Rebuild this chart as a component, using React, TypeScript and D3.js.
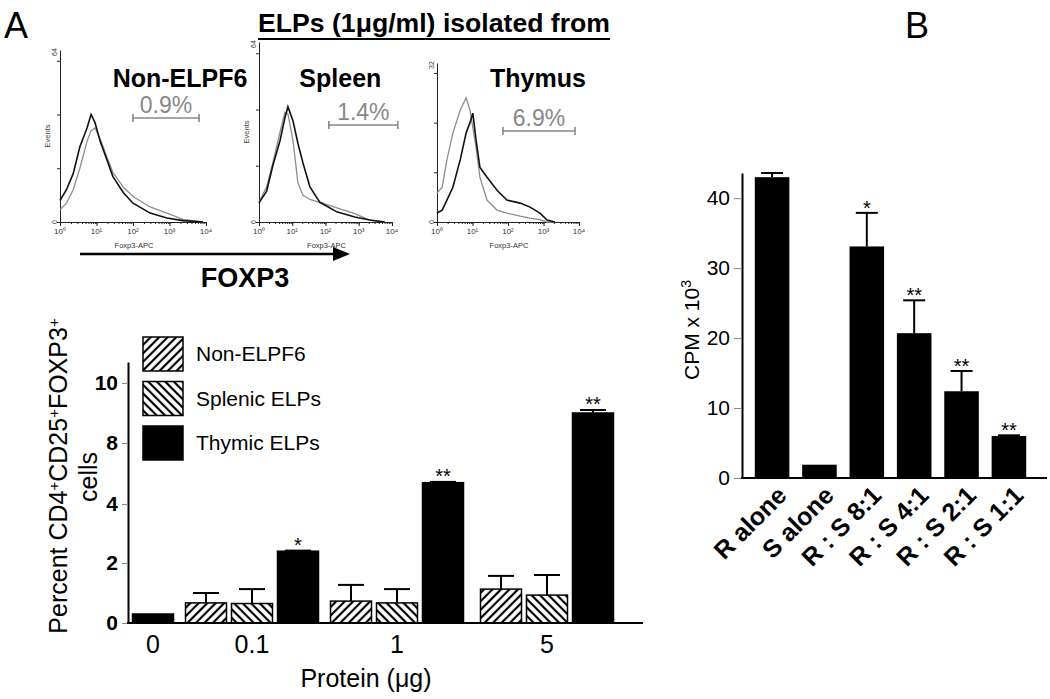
import React, { useEffect, useRef } from 'react'
import * as d3 from 'd3'

// ---- Panel A, top: FOXP3 flow histograms (black / gray overlays) ----
const nonElpIntensity = [1, 1.5, 2.3, 3.5, 5.5, 7.1, 9.1, 12.6, 19.5, 28, 54, 100, 295, 850, 2340, 8300]
const nonElpBlack = [8, 12, 18, 28, 35, 40, 37, 30, 23, 17, 11, 7, 3.3, 1.5, 0.5, 0]
const nonElpGray = [4.5, 7, 12, 20, 30, 34, 35, 31, 24, 18.5, 13, 9.5, 5.6, 3.3, 1, 0]

const spleenIntensity = [1, 1.7, 2.6, 4.3, 6.0, 7.4, 10.5, 14.8, 21, 34, 68, 219, 759, 2140, 6030]
const spleenBlack = [6.8, 11, 20, 29, 37, 41, 36, 28, 21, 12.5, 7, 3.6, 1.8, 0.7, 0]
const spleenGray = [7, 12.5, 21, 32, 39, 38.5, 29, 14, 9.5, 8, 7, 5, 3, 0.7, 0]

const thymusIntensity = [1, 1.4, 1.9, 2.8, 4.5, 6.6, 8.5, 10.2, 12.6, 16.2, 25.7, 49, 93, 219, 417, 794, 1260, 2090]
const thymusBlack = [1.8, 2.4, 4.4, 7, 12.5, 17.9, 20, 21.9, 16.5, 11, 9, 6.4, 4.4, 3.8, 3, 1.8, 0.4, 0]
const thymusGray = [5.8, 7, 12.5, 17.9, 22.5, 25, 22.5, 19, 15, 9, 4.4, 2.4, 1.8, 1.2, 0.8, 0.5, 0, 0]

const histTitles = ['Non-ELPF6', 'Spleen', 'Thymus']
const histYMax = [64, 64, 32]
const gatePct = ['0.9%', '1.4%', '6.9%']
const gateLow = [100, 126, 72]
const gateHigh = [6450, 15000, 7700]
const gateLevel = [38.7, 34.5, 18.3]
const decades = [1, 10, 100, 1000, 10000]
const decadeLabels = ['10⁰', '10¹', '10²', '10³', '10⁴']

// ---- Panel A, bottom: % CD4+CD25+FOXP3+ cells ----
const doses = ['0', '0.1', '1', '5']
const nonElpMean = [null, 0.67, 0.73, 1.13]
const nonElpSem = [null, 0.33, 0.54, 0.44]
const splenicMean = [null, 0.65, 0.67, 0.93]
const splenicSem = [null, 0.48, 0.46, 0.67]
const thymicMean = [0.3, 2.4, 5.4, 9.0]
const thymicSem = [0, 0.02, 0.05, 0.1]
const thymicStars = ['', '*', '**', '**']
const pctTicks = [0, 2, 4, 8, 10]

// ---- Panel B: proliferation ----
const cpmGroups = ['R alone', 'S alone', 'R : S 8:1', 'R : S 4:1', 'R : S 2:1', 'R : S 1:1']
const cpmMean = [43, 1.9, 33.1, 20.7, 12.4, 6.0]
const cpmSem = [0.6, 0, 4.8, 4.7, 2.9, 0.1]
const cpmStars = ['', '', '*', '**', '**', '**']
const cpmTicks = [0, 10, 20, 30, 40]

const W = 1050
const H = 699
const FONT = "'Liberation Sans', Arial, Helvetica, sans-serif"

// plot boxes of the three histograms
const histLayout = [
  { left: 60, right: 206, top: 50, bottom: 222, events: true },
  { left: 259, right: 392, top: 42, bottom: 222, events: true },
  { left: 437, right: 579, top: 63, bottom: 222, events: false },
]

const App = () => {
  const ref = useRef<SVGSVGElement | null>(null)

  useEffect(() => {
    const svg = d3.select(ref.current)
    svg.selectAll('*').remove()
    svg.attr('font-family', FONT)

    svg.append('rect').attr('width', W).attr('height', H).attr('fill', '#fff')

    // hatch patterns
    const defs = svg.append('defs')
    const hatch = (id: string, angle: number) => {
      const p = defs.append('pattern')
        .attr('id', id)
        .attr('patternUnits', 'userSpaceOnUse')
        .attr('width', 6).attr('height', 6)
        .attr('patternTransform', `rotate(${angle})`)
      p.append('rect').attr('width', 6).attr('height', 6).attr('fill', '#fff')
      p.append('line').attr('x1', 3).attr('y1', -1).attr('x2', 3).attr('y2', 7)
        .attr('stroke', '#000').attr('stroke-width', 2.2)
    }
    hatch('hatchFwd', 45)
    hatch('hatchBack', -45)

    // panel letters
    svg.append('text').attr('x', 4).attr('y', 38).attr('font-size', 36).text('A')
    svg.append('text').attr('x', 905).attr('y', 38).attr('font-size', 36).text('B')

    // title
    svg.append('text').attr('x', 258).attr('y', 32).attr('font-size', 26.5).attr('font-weight', 'bold')
      .attr('textLength', 352).attr('lengthAdjust', 'spacingAndGlyphs')
      .text('ELPs (1μg/ml) isolated from')
    svg.append('line').attr('x1', 258).attr('x2', 610).attr('y1', 39).attr('y2', 39)
      .attr('stroke', '#000').attr('stroke-width', 2)

    // ---------- histograms ----------
    const histData = [
      { xs: nonElpIntensity, black: nonElpBlack, gray: nonElpGray },
      { xs: spleenIntensity, black: spleenBlack, gray: spleenGray },
      { xs: thymusIntensity, black: thymusBlack, gray: thymusGray },
    ]

    histData.forEach((h, i) => {
      const L = histLayout[i]
      const x = d3.scaleLog().domain([1, 10000]).range([L.left, L.right])
      const y = d3.scaleLinear().domain([0, histYMax[i]]).range([L.bottom, L.top])
      const g = svg.append('g')

      // minor + major ticks on x
      const xa = g.append('g').attr('transform', `translate(0,${L.bottom})`)
        .call(d3.axisBottom(x).tickValues(x.ticks()).tickSize(2).tickSizeOuter(0).tickFormat(() => ''))
      xa.selectAll('path,line').attr('stroke', '#222').attr('stroke-width', 1)
      g.append('g').attr('transform', `translate(0,${L.bottom})`)
        .call(d3.axisBottom(x).tickValues(decades).tickSize(4).tickSizeOuter(0).tickFormat(() => ''))
        .call(s => s.select('.domain').remove())
        .selectAll('line').attr('stroke', '#222')

      decades.forEach((d, k) => {
        g.append('text').attr('x', x(d)).attr('y', L.bottom + 12)
          .attr('text-anchor', 'middle').attr('font-size', 8).attr('fill', '#333')
          .text(decadeLabels[k])
      })
      g.append('text').attr('x', (L.left + L.right) / 2 + 1).attr('y', L.bottom + 26)
        .attr('text-anchor', 'middle').attr('font-size', 7.5).attr('fill', '#333')
        .text('Foxp3-APC')

      // y axis
      const ya = g.append('g').attr('transform', `translate(${L.left},0)`)
        .call(d3.axisLeft(y).ticks(4).tickSize(3).tickSizeOuter(0).tickFormat(() => ''))
      ya.selectAll('path,line').attr('stroke', '#222').attr('stroke-width', 1)
      g.append('text').attr('transform', `translate(${L.left - 3},${L.bottom}) rotate(-90)`)
        .attr('text-anchor', 'middle').attr('font-size', 7).attr('fill', '#333').text('0')
      g.append('text').attr('transform', `translate(${L.left - 3},${L.top + 2}) rotate(-90)`)
        .attr('text-anchor', 'middle').attr('font-size', 7).attr('fill', '#333').text(String(histYMax[i]))
      if (L.events) {
        g.append('text').attr('transform', `translate(${L.left - 10},${(L.top + L.bottom) / 2}) rotate(-90)`)
          .attr('text-anchor', 'middle').attr('font-size', 7.5).attr('fill', '#444').text('Events')
      }

      const line = (vals: number[]) => d3.line<number>()
        .x((_, k) => x(h.xs[k]))
        .y(v => y(v))(vals)

      g.append('path').attr('d', line(h.gray)).attr('fill', 'none')
        .attr('stroke', '#8d8d8d').attr('stroke-width', 1.3)
      g.append('path').attr('d', line(h.black)).attr('fill', 'none')
        .attr('stroke', '#111').attr('stroke-width', 1.6)

      // M1 gate
      const gx1 = x(gateLow[i])
      const gx2 = x(gateHigh[i])
      const gy = y(gateLevel[i])
      const gate = g.append('g').attr('stroke', '#888').attr('stroke-width', 1.6)
      gate.append('line').attr('x1', gx1).attr('x2', gx2).attr('y1', gy).attr('y2', gy)
      gate.append('line').attr('x1', gx1).attr('x2', gx1).attr('y1', gy - 4).attr('y2', gy + 4)
      gate.append('line').attr('x1', gx2).attr('x2', gx2).attr('y1', gy - 4).attr('y2', gy + 4)
      g.append('text').attr('x', (gx1 + gx2) / 2).attr('y', gy - 5)
        .attr('text-anchor', 'middle').attr('font-size', 23).attr('fill', '#888')
        .text(gatePct[i])

      // sample title
      g.append('text').attr('x', (gx1 + gx2) / 2 + (i === 0 ? 14 : i === 1 ? -23 : -1)).attr('y', 87)
        .attr('text-anchor', 'middle').attr('font-size', 25).attr('font-weight', 'bold')
        .text(histTitles[i])
    })

    // FOXP3 arrow
    svg.append('line').attr('x1', 80).attr('x2', 336).attr('y1', 254).attr('y2', 254)
      .attr('stroke', '#000').attr('stroke-width', 2.5)
    svg.append('path').attr('d', 'M333,247 L350,254 L333,261 Z').attr('fill', '#000')
    svg.append('text').attr('x', 245).attr('y', 287).attr('text-anchor', 'middle')
      .attr('font-size', 27).attr('font-weight', 'bold').text('FOXP3')

    // ---------- panel A bottom bar chart ----------
    const yA = d3.scaleLinear().domain([0, 2, 4, 8, 10, 10.7]).range([623, 563, 504, 443, 383, 362])
    const xA = d3.scaleOrdinal<string, number>().domain(doses).range([153, 252, 397, 547])
    const barW = 41
    const barStep = 46
    const seriesA = [
      { name: 'Non-ELPF6', mean: nonElpMean, sem: nonElpSem, fill: 'url(#hatchFwd)', stars: null },
      { name: 'Splenic ELPs', mean: splenicMean, sem: splenicSem, fill: 'url(#hatchBack)', stars: null },
      { name: 'Thymic ELPs', mean: thymicMean, sem: thymicSem, fill: '#000', stars: thymicStars },
    ]

    const gA = svg.append('g')
    doses.forEach((dose, di) => {
      const present = seriesA.filter(s => s.mean[di] != null)
      present.forEach((s, k) => {
        const cx = xA(dose) + (k - (present.length - 1) / 2) * barStep
        const m = s.mean[di] as number
        const e = s.sem[di] as number
        const top = yA(m + e)
        if (e > 0) {
          gA.append('line').attr('x1', cx).attr('x2', cx).attr('y1', yA(m)).attr('y2', top)
            .attr('stroke', '#000').attr('stroke-width', 2)
          gA.append('line').attr('x1', cx - 13).attr('x2', cx + 13).attr('y1', top).attr('y2', top)
            .attr('stroke', '#000').attr('stroke-width', 2)
        }
        gA.append('rect').attr('x', cx - barW / 2).attr('y', yA(m))
          .attr('width', barW).attr('height', yA(0) - yA(m))
          .attr('fill', s.fill).attr('stroke', '#000').attr('stroke-width', 1.5)
        if (s.stars && s.stars[di]) {
          gA.append('text').attr('x', cx).attr('y', top + 1).attr('text-anchor', 'middle')
            .attr('font-size', 20).text(s.stars[di])
        }
      })
    })

    const ayA = gA.append('g').attr('transform', 'translate(128,0)')
      .call(d3.axisLeft(yA).tickValues(pctTicks).tickSize(6).tickSizeOuter(0).tickPadding(4).tickFormat(d3.format('d')))
    ayA.select('.domain').attr('stroke', '#000').attr('stroke-width', 2)
    ayA.selectAll('.tick line').attr('stroke', '#888')
    ayA.selectAll('.tick text').attr('font-size', 21).attr('font-weight', 'bold')
      .attr('font-family', FONT).attr('fill', '#000')
    gA.append('line').attr('x1', 127).attr('x2', 643).attr('y1', yA(0)).attr('y2', yA(0))
      .attr('stroke', '#000').attr('stroke-width', 2)

    doses.forEach(dose => {
      gA.append('text').attr('x', xA(dose)).attr('y', 653).attr('text-anchor', 'middle')
        .attr('font-size', 25).text(dose)
    })
    gA.append('text').attr('x', 366).attr('y', 687).attr('text-anchor', 'middle')
      .attr('font-size', 25).text('Protein (μg)')

    const yTitle = gA.append('text').attr('transform', 'translate(67,476) rotate(-90)')
      .attr('text-anchor', 'middle').attr('font-size', 25)
    const parts: [string, boolean][] = [['Percent CD4', false], ['+', true], ['CD25', false], ['+', true], ['FOXP3', false], ['+', true]]
    parts.forEach(([t, sup]) => {
      const ts = yTitle.append('tspan').text(t)
      if (sup) ts.attr('baseline-shift', 'super').attr('font-size', 15)
    })
    gA.append('text').attr('transform', 'translate(97,477) rotate(-90)')
      .attr('text-anchor', 'middle').attr('font-size', 25).text('cells')

    // legend
    seriesA.forEach((s, k) => {
      const ly = 337 + k * 44.5
      gA.append('rect').attr('x', 143).attr('y', ly).attr('width', 40).attr('height', 34)
        .attr('fill', s.fill).attr('stroke', '#000').attr('stroke-width', 1.5)
      gA.append('text').attr('x', 196).attr('y', ly + 24).attr('font-size', 21).text(s.name)
    })

    // ---------- panel B ----------
    const yB = d3.scaleLinear().domain([0, 43.6]).range([478, 173])
    const xB = d3.scaleBand().domain(cpmGroups).range([742, 1039]).padding(0.27)
    const gB = svg.append('g')

    cpmGroups.forEach((c, i) => {
      const x0 = xB(c) as number
      const cx = x0 + xB.bandwidth() / 2
      const top = yB(cpmMean[i] + cpmSem[i])
      if (cpmSem[i] > 0) {
        gB.append('line').attr('x1', cx).attr('x2', cx).attr('y1', yB(cpmMean[i])).attr('y2', top)
          .attr('stroke', '#000').attr('stroke-width', 2)
        gB.append('line').attr('x1', cx - 11).attr('x2', cx + 11).attr('y1', top).attr('y2', top)
          .attr('stroke', '#000').attr('stroke-width', 2)
      }
      gB.append('rect').attr('x', x0).attr('y', yB(cpmMean[i]))
        .attr('width', xB.bandwidth()).attr('height', yB(0) - yB(cpmMean[i]))
        .attr('fill', '#000')
      if (cpmStars[i]) {
        gB.append('text').attr('x', cx).attr('y', top + 2).attr('text-anchor', 'middle')
          .attr('font-size', 20).text(cpmStars[i])
      }
      gB.append('text').attr('transform', `translate(${cx + 16},${497}) rotate(-45)`)
        .attr('text-anchor', 'end').attr('font-size', 25).attr('font-weight', 'bold').text(c)
    })

    const ayB = gB.append('g').attr('transform', 'translate(742,0)')
      .call(d3.axisLeft(yB).tickValues(cpmTicks).tickSize(8).tickSizeOuter(0).tickPadding(4))
    ayB.select('.domain').attr('stroke', '#000').attr('stroke-width', 2)
    ayB.selectAll('.tick line').attr('stroke', '#888')
    ayB.selectAll('.tick text').attr('font-size', 21).attr('font-family', FONT).attr('fill', '#000')
    gB.append('line').attr('x1', 741).attr('x2', 1047).attr('y1', yB(0)).attr('y2', yB(0))
      .attr('stroke', '#000').attr('stroke-width', 2)

    const yTitleB = gB.append('text').attr('transform', 'translate(699,330) rotate(-90)')
      .attr('text-anchor', 'middle').attr('font-size', 21)
    yTitleB.append('tspan').text('CPM x 10')
    yTitleB.append('tspan').attr('baseline-shift', 'super').attr('font-size', 14).text('3')

    return () => {
      d3.select(ref.current).selectAll('*').remove()
    }
  }, [])

  return (
    <svg ref={ref} width={W} height={H}
      style={{ position: 'absolute', left: 0, top: 0, display: 'block' }} />
  )
}

export default App
